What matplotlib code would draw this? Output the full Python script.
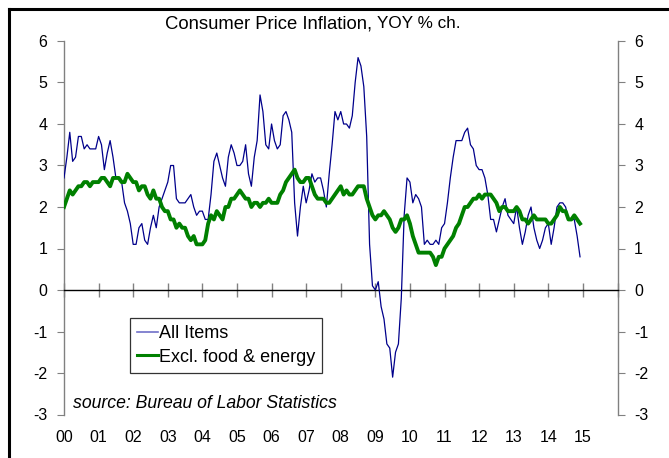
import matplotlib
matplotlib.use("Agg")
import matplotlib.pyplot as plt
from matplotlib.lines import Line2D
import numpy as np

plt.rcParams['font.family'] = ['Liberation Sans', 'DejaVu Sans']

# Monthly YoY % change, Jan 2000 .. Dec 2014
all_items = [
    2.7, 3.2, 3.8, 3.1, 3.2, 3.7, 3.7, 3.4, 3.5, 3.4, 3.4, 3.4,   # 2000
    3.7, 3.5, 2.9, 3.3, 3.6, 3.2, 2.7, 2.7, 2.6, 2.1, 1.9, 1.6,   # 2001
    1.1, 1.1, 1.5, 1.6, 1.2, 1.1, 1.5, 1.8, 1.5, 2.0, 2.2, 2.4,   # 2002
    2.6, 3.0, 3.0, 2.2, 2.1, 2.1, 2.1, 2.2, 2.3, 2.0, 1.8, 1.9,   # 2003
    1.9, 1.7, 1.7, 2.3, 3.1, 3.3, 3.0, 2.7, 2.5, 3.2, 3.5, 3.3,   # 2004
    3.0, 3.0, 3.1, 3.5, 2.8, 2.5, 3.2, 3.6, 4.7, 4.3, 3.5, 3.4,   # 2005
    4.0, 3.6, 3.4, 3.5, 4.2, 4.3, 4.1, 3.8, 2.1, 1.3, 2.0, 2.5,   # 2006
    2.1, 2.4, 2.8, 2.6, 2.7, 2.7, 2.4, 2.0, 2.8, 3.5, 4.3, 4.1,   # 2007
    4.3, 4.0, 4.0, 3.9, 4.2, 5.0, 5.6, 5.4, 4.9, 3.7, 1.1, 0.1,   # 2008
    0.0, 0.2, -0.4, -0.7, -1.3, -1.4, -2.1, -1.5, -1.3, -0.2, 1.8, 2.7,  # 2009
    2.6, 2.1, 2.3, 2.2, 2.0, 1.1, 1.2, 1.1, 1.1, 1.2, 1.1, 1.5,   # 2010
    1.6, 2.1, 2.7, 3.2, 3.6, 3.6, 3.6, 3.8, 3.9, 3.5, 3.4, 3.0,   # 2011
    2.9, 2.9, 2.7, 2.3, 1.7, 1.7, 1.4, 1.7, 2.0, 2.2, 1.8, 1.7,   # 2012
    1.6, 2.0, 1.5, 1.1, 1.4, 1.8, 2.0, 1.5, 1.2, 1.0, 1.2, 1.5,   # 2013
    1.6, 1.1, 1.5, 2.0, 2.1, 2.1, 2.0, 1.7, 1.7, 1.7, 1.3, 0.8,   # 2014
]
core = [
    2.0, 2.2, 2.4, 2.3, 2.4, 2.5, 2.5, 2.6, 2.6, 2.5, 2.6, 2.6,   # 2000
    2.6, 2.7, 2.7, 2.6, 2.5, 2.7, 2.7, 2.7, 2.6, 2.6, 2.8, 2.7,   # 2001
    2.6, 2.6, 2.4, 2.5, 2.5, 2.3, 2.2, 2.4, 2.2, 2.2, 2.0, 1.9,   # 2002
    1.9, 1.7, 1.7, 1.5, 1.6, 1.5, 1.5, 1.3, 1.2, 1.3, 1.1, 1.1,   # 2003
    1.1, 1.2, 1.6, 1.8, 1.7, 1.9, 1.8, 1.7, 2.0, 2.0, 2.2, 2.2,   # 2004
    2.3, 2.4, 2.3, 2.2, 2.2, 2.0, 2.1, 2.1, 2.0, 2.1, 2.1, 2.2,   # 2005
    2.1, 2.1, 2.1, 2.3, 2.4, 2.6, 2.7, 2.8, 2.9, 2.7, 2.6, 2.6,   # 2006
    2.7, 2.7, 2.5, 2.3, 2.2, 2.2, 2.2, 2.1, 2.1, 2.2, 2.3, 2.4,   # 2007
    2.5, 2.3, 2.4, 2.3, 2.3, 2.4, 2.5, 2.5, 2.5, 2.2, 2.0, 1.8,   # 2008
    1.7, 1.8, 1.8, 1.9, 1.8, 1.7, 1.5, 1.4, 1.5, 1.7, 1.7, 1.8,   # 2009
    1.6, 1.3, 1.1, 0.9, 0.9, 0.9, 0.9, 0.9, 0.8, 0.6, 0.8, 0.8,   # 2010
    1.0, 1.1, 1.2, 1.3, 1.5, 1.6, 1.8, 2.0, 2.0, 2.1, 2.2, 2.2,   # 2011
    2.3, 2.2, 2.3, 2.3, 2.3, 2.2, 2.1, 1.9, 2.0, 2.0, 1.9, 1.9,   # 2012
    1.9, 2.0, 1.9, 1.7, 1.7, 1.6, 1.7, 1.8, 1.7, 1.7, 1.7, 1.7,   # 2013
    1.6, 1.6, 1.7, 1.8, 2.0, 1.9, 1.9, 1.7, 1.7, 1.8, 1.7, 1.6,   # 2014
]
start_year = 2000
year_ticks = list(range(2000, 2017))
year_labels = ["00", "01", "02", "03", "04", "05", "06", "07", "08",
               "09", "10", "11", "12", "13", "14", "15"]
y_ticks = [-3, -2, -1, 0, 1, 2, 3, 4, 5, 6]

x = start_year + np.arange(len(all_items)) / 12.0

fig = plt.figure(figsize=(6.69, 4.58), dpi=100)
ax = fig.add_axes([64 / 669, 1 - 414.5 / 458, 553.5 / 669, 373.5 / 458])

ax.plot(x, all_items, color="#00008B", lw=0.9, label="All Items", zorder=3)
ax.plot(x, core, color="#008000", lw=2.8, label="Excl. food & energy", zorder=4)

ax.set_xlim(2000, 2016)
ax.set_ylim(-3, 6)
ax.set_yticks(y_ticks)
ax.set_yticklabels([str(v) for v in y_ticks])

gray = "#808080"
ax.spines["top"].set_visible(False)
ax.spines["left"].set_color(gray)
ax.spines["right"].set_color(gray)
ax.spines["left"].set_linewidth(1.0)
ax.spines["right"].set_linewidth(1.0)
ax.spines["bottom"].set_position(("data", 0))
ax.spines["bottom"].set_color("black")
ax.spines["bottom"].set_linewidth(1.0)

ax.tick_params(axis="y", which="both", left=True, right=True, labelleft=True,
               labelright=True, direction="out", length=5, color=gray,
               labelsize=11.5, pad=7)
ax.set_xticks(year_ticks)
ax.tick_params(axis="x", direction="inout", length=10, color=gray, width=1.0,
               labelbottom=False)

sec = ax.secondary_xaxis(0.0)
sec.set_xticks(year_ticks[:-1])
sec.set_xticklabels(year_labels)
sec.tick_params(length=0, pad=11, labelsize=11.5)
sec.spines["bottom"].set_visible(False)

leg = ax.legend(loc="upper left", bbox_to_anchor=(66 / 553.5, 96.5 / 373.5),
                fontsize=13, frameon=True, fancybox=False, handlelength=1.15,
                handletextpad=0.05, borderpad=0.4, labelspacing=0.35,
                borderaxespad=0)
leg.get_frame().set_edgecolor("black")
leg.get_frame().set_linewidth(0.9)
leg.get_lines()[0].set_color("#7070c8")
leg.get_lines()[0].set_linewidth(1.2)
leg.get_lines()[1].set_linewidth(2.2)

ax.text(9 / 553.5, 11.5 / 373.5, "source: Bureau of Labor Statistics",
        transform=ax.transAxes, fontsize=12.7, style="italic", ha="left", va="center")

fig.text(377 / 669, 1 - 24 / 458, "Consumer Price Inflation, ", fontsize=13.3,
         ha="right", va="center")
fig.text(377 / 669, 1 - 24 / 458, "YOY % ch.", fontsize=12.3, ha="left", va="center")

bx = 8.5 / 669
by = 1 - 8.5 / 458
fig.add_artist(Line2D([bx, bx], [0, by], transform=fig.transFigure,
                      color="black", lw=2.2, solid_capstyle="projecting"))
fig.add_artist(Line2D([bx, 1], [by, by], transform=fig.transFigure,
                      color="black", lw=2.2, solid_capstyle="projecting"))

fig.savefig("out.png", dpi=100)
